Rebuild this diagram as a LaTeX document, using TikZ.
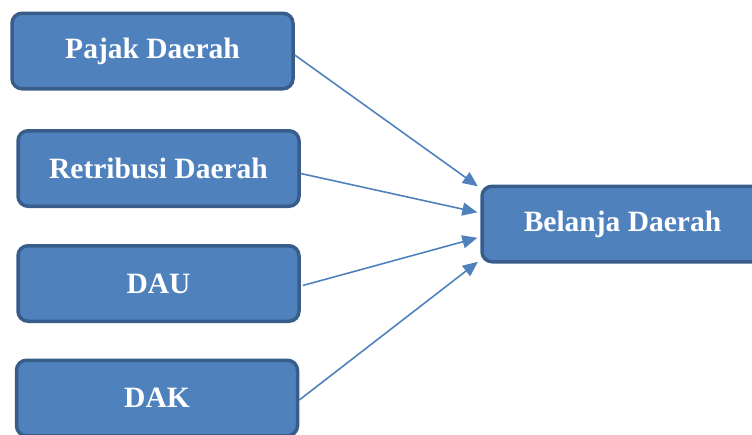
\documentclass[tikz,border=0pt]{standalone}
\usepackage{fontspec}
\setmainfont{Liberation Serif}
\usetikzlibrary{positioning, calc}
\usetikzlibrary{arrows.meta}
\begin{document}
\begin{tikzpicture}
    [x=1pt, y=-1pt,
    post/.style={-{Triangle[length=15pt,width=13pt]},draw=boxblue,line width=1.6pt,shorten >=3pt},
    ob/.style={rectangle,draw=boxedge,fill=boxblue,line width=3.5pt,minimum width=281pt,minimum height=75.5pt,rounded corners=10pt,text=white,font=\fontsize{29.5}{31}\selectfont\bfseries}]
    \definecolor{boxblue}{RGB}{79,129,189};
    \definecolor{boxedge}{RGB}{56,93,138};
    \useasboundingbox (0,0) rectangle (752,434);
    \node [ob] (Pajak) at (152.5,51) {Pajak Daerah};
    \node [ob] (Retribusi) at (158.5,168.5) {Retribusi Daerah};
    \node [ob] (DAU) at (158.5,283.5) {DAU};
    \node [ob] (DAK) at (157,398) {DAK};
    \node [ob] (Belanja) at (622.5,224) {Belanja Daerah};
    \draw[post] ([yshift=-4pt]Pajak.east) -- ([yshift=36pt]Belanja.west);
    \draw[post] ([yshift=-5pt]Retribusi.east) -- ([yshift=11pt]Belanja.west);
    \draw[post] ([xshift=2pt,yshift=-2pt]DAU.east) -- ([yshift=-13pt]Belanja.west);
    \draw[post] ([yshift=-2pt]DAK.east) -- ([yshift=-36pt]Belanja.west);
\end{tikzpicture}
\end{document}
